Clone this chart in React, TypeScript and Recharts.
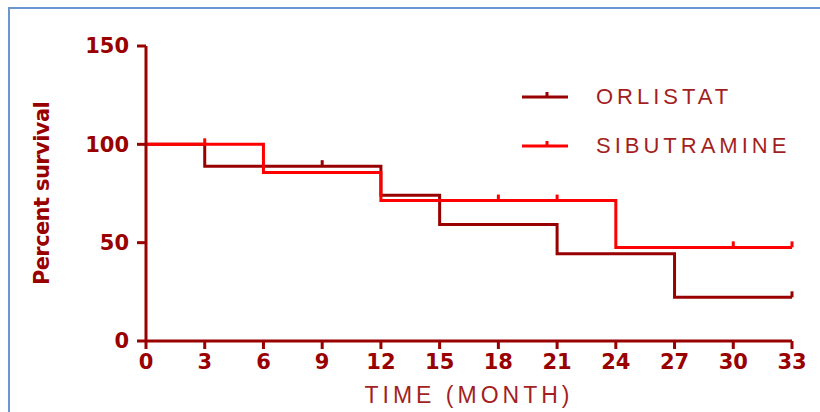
import { LineChart, Line, XAxis, YAxis, Legend } from "recharts";

const monthTicks = [0, 3, 6, 9, 12, 15, 18, 21, 24, 27, 30, 33];
const percentTicks = [0, 50, 100, 150];

// Kaplan-Meier steps; censored = small tick mark
const orlistatMonths = [0, 3, 9, 12, 15, 21, 27, 33];
const orlistatSurvival = [100, 88.9, 88.9, 74.1, 59.3, 44.4, 22.2, 22.2];
const orlistatCensored = [false, false, true, false, false, false, false, true];

const sibutramineMonths = [0, 3, 6, 12, 18, 21, 24, 30, 33];
const sibutramineSurvival = [100, 100, 85.7, 71.4, 71.4, 71.4, 47.6, 47.6, 47.6];
const sibutramineCensored = [false, true, false, false, true, true, false, true, true];

const seriesNames = ["ORLISTAT", "SIBUTRAMINE"];
const seriesColors = ["#990000", "#FF0000"];

const AXIS = "#990000";
const TEXT = "#A31F1F";

const toRows = (months: number[], surv: number[], cens: boolean[]) =>
  months.map((m, i) => ({ month: m, survival: surv[i], censored: cens[i] }));

const orlistatData = toRows(orlistatMonths, orlistatSurvival, orlistatCensored);
const sibutramineData = toRows(sibutramineMonths, sibutramineSurvival, sibutramineCensored);

const censorDot = (color: string) => (props: any) => {
  const { cx, cy, payload, index } = props;
  if (!payload || !payload.censored) return <g key={index} />;
  return (
    <line key={index} x1={cx} x2={cx} y1={cy} y2={cy - 6} stroke={color} strokeWidth={3} />
  );
};

function LegendBox() {
  return (
    <svg width={300} height={80}>
      {seriesNames.map((name, i) => (
        <g key={name} transform={`translate(0, ${i * 49})`}>
          <line x1={7} x2={53} y1={17} y2={17} stroke={seriesColors[i]} strokeWidth={3} />
          <line x1={32} x2={32} y1={17} y2={12} stroke={seriesColors[i]} strokeWidth={3} />
          <text
            x={81}
            y={24}
            fill={TEXT}
            fontFamily="'Liberation Sans', Arial, sans-serif"
            fontSize={22}
            letterSpacing={4}
          >
            {name}
          </text>
        </g>
      ))}
    </svg>
  );
}

export default function App() {
  const tickStyle = {
    fill: AXIS,
    fontFamily: "'DejaVu Sans', sans-serif",
    fontWeight: "bold" as const,
    fontSize: 21,
  };
  return (
    <div style={{ position: "absolute", left: 0, top: 0, width: 820, height: 412, background: "#fff" }}>
      <div
        style={{
          position: "absolute",
          left: 8,
          top: 7,
          width: 812,
          height: 405,
          borderTop: "2px solid #6A96D2",
          borderLeft: "2px solid #6A96D2",
          boxSizing: "border-box",
        }}
      />
      <div style={{ position: "absolute", left: 0, top: 0 }}>
        <LineChart width={820} height={412} margin={{ top: 46, right: 28, bottom: 0, left: 0 }}>
          <XAxis
            dataKey="month"
            type="number"
            domain={[0, 33]}
            ticks={monthTicks}
            interval={0}
            height={71}
            axisLine={{ stroke: AXIS, strokeWidth: 3 }}
            tickLine={{ stroke: AXIS, strokeWidth: 3 }}
            tickSize={8}
            tickMargin={5}
            tick={tickStyle}
            label={{
              value: "TIME (MONTH)",
              position: "insideBottom",
              offset: 9,
              fill: TEXT,
              fontFamily: "'Liberation Sans', Arial, sans-serif",
              fontSize: 23,
              letterSpacing: 4,
            }}
          />
          <YAxis
            type="number"
            domain={[0, 150]}
            ticks={percentTicks}
            interval={0}
            width={146}
            axisLine={{ stroke: AXIS, strokeWidth: 3 }}
            tickLine={{ stroke: AXIS, strokeWidth: 3 }}
            tickSize={9}
            tickMargin={8}
            tick={tickStyle}
            label={{
              value: "Percent survival",
              angle: -90,
              position: "insideLeft",
              offset: 42,
              fill: AXIS,
              fontFamily: "'DejaVu Sans', sans-serif",
              fontWeight: "bold",
              fontSize: 21,
              letterSpacing: -0.6,
              style: { textAnchor: "middle" },
            }}
          />
          <Legend
            layout="horizontal"
            verticalAlign="middle"
            align="center"
            width={300}
            wrapperStyle={{ left: 515, top: 80, width: 300, height: 80 }}
            content={() => <LegendBox />}
          />
          <Line
            data={orlistatData}
            dataKey="survival"
            name={seriesNames[0]}
            type="stepAfter"
            stroke={seriesColors[0]}
            strokeWidth={3}
            dot={censorDot(seriesColors[0])}
            activeDot={false}
            isAnimationActive={false}
          />
          <Line
            data={sibutramineData}
            dataKey="survival"
            name={seriesNames[1]}
            type="stepAfter"
            stroke={seriesColors[1]}
            strokeWidth={3}
            dot={censorDot(seriesColors[1])}
            activeDot={false}
            isAnimationActive={false}
          />
        </LineChart>
      </div>
    </div>
  );
}
